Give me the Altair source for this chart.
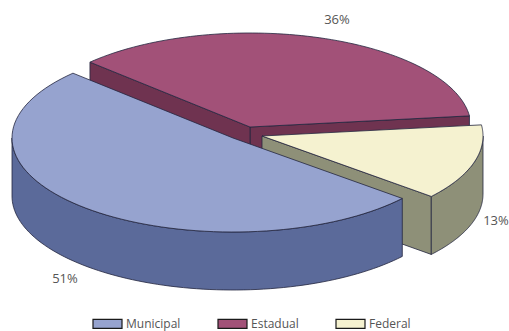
import math
import altair as alt

# Share of each administrative level, in percent
slices = ["Municipal", "Estadual", "Federal"]
shares = [51, 36, 13]
top_colors = ["#96A3CF", "#A25178", "#F5F2D0"]
side_colors = ["#5B6A9A", "#6F3350", "#8E9078"]

# Slices are laid out counter-clockwise from the Federal start angle
START_ANGLE = -40.0
RX, RY = 221, 94      # ellipse radii of the tilted disc
DEPTH = 58            # thickness of the disc
CENTRES = {"Municipal": (233, 138), "Estadual": (250, 127), "Federal": (262, 136)}
LABEL_AT = {"Municipal": (65, 279), "Estadual": (337, 20), "Federal": (496, 221)}
EDGE = "#23263f"

angles = {}
a = START_ANGLE
for name in ["Federal", "Estadual", "Municipal"]:
    sweep = shares[slices.index(name)] * 3.6
    angles[name] = (a, a + sweep)
    a += sweep


def rim(name, t):
    cx, cy = CENTRES[name]
    r = math.radians(t)
    return [cx + RX * math.cos(r), cy - RY * math.sin(r)]


def arc(name, t0, t1, n=80):
    return [rim(name, t0 + (t1 - t0) * i / n) for i in range(n + 1)]


def drop(pts):
    return [[x, y + DEPTH] for x, y in pts]


def feature(ring, name):
    return {
        "type": "Feature",
        "properties": {"slice": name},
        "geometry": {"type": "Polygon", "coordinates": [ring + [ring[0]]]},
    }


def top_face(name):
    t0, t1 = angles[name]
    return feature([list(CENTRES[name])] + arc(name, t0, t1), name)


def radial_face(name, t):
    c = list(CENTRES[name])
    p = rim(name, t)
    return feature([c, p, [p[0], p[1] + DEPTH], [c[0], c[1] + DEPTH]], name)


def outer_face(name, t0, t1):
    pts = arc(name, t0, t1)
    return feature(pts + drop(pts)[::-1], name)


projection = alt.Projection(type="identity", scale=1, translate=[0, 0])
colour_scale = alt.Scale(domain=slices, range=top_colors)


def sides(features, name):
    colour = side_colors[slices.index(name)]
    return alt.Chart(alt.Data(values=features)).mark_geoshape(
        fill=colour, stroke=EDGE, strokeWidth=0.8, strokeJoin="round"
    )


def top(name):
    return alt.Chart(alt.Data(values=[top_face(name)])).mark_geoshape(
        stroke=EDGE, strokeWidth=0.8, strokeJoin="round"
    ).encode(
        color=alt.Color(
            "properties.slice:N",
            scale=colour_scale,
            legend=alt.Legend(
                title=None,
                orient="none",
                direction="horizontal",
                legendX=92,
                legendY=308,
                padding=0,
                symbolType="M-1,-0.31H1V0.31H-1Z",
                symbolSize=841,
                symbolStrokeColor="#1a1a1a",
                symbolStrokeWidth=1.2,
                symbolOpacity=1,
                labelFont="Open Sans",
                labelFontSize=12,
                labelColor="#555555",
                labelOffset=3,
                columnPadding=34,
            ),
        )
    )


est0, est1 = angles["Estadual"]
fed0, fed1 = angles["Federal"]
mun0, mun1 = angles["Municipal"]

layers = [
    sides([radial_face("Estadual", est0), radial_face("Estadual", est1)], "Estadual"),
    top("Estadual"),
    # The outer wall stops at the disc's rightmost point, where it turns out of view
    sides([radial_face("Federal", fed0), outer_face("Federal", fed0, 0)], "Federal"),
    top("Federal"),
    sides([outer_face("Municipal", 180, mun1)], "Municipal"),
    top("Municipal"),
]

label_rows = [
    {
        "lon": LABEL_AT[name][0],
        "lat": LABEL_AT[name][1],
        "text": f"{share}%",
    }
    for name, share in zip(slices, shares)
]
labels = alt.Chart(alt.Data(values=label_rows)).mark_text(
    font="Open Sans", fontSize=13, color="#555555"
).encode(
    longitude="lon:Q",
    latitude="lat:Q",
    text="text:N",
)

chart = (
    alt.layer(*layers, labels)
    .properties(
        width=509,
        height=331,
        padding=0,
        autosize=alt.AutoSizeParams(type="none"),
        projection=projection,
        background="white",
    )
    .configure_view(stroke=None)
)

chart.save("out.html", embed_options={"renderer": "svg", "actions": False})
